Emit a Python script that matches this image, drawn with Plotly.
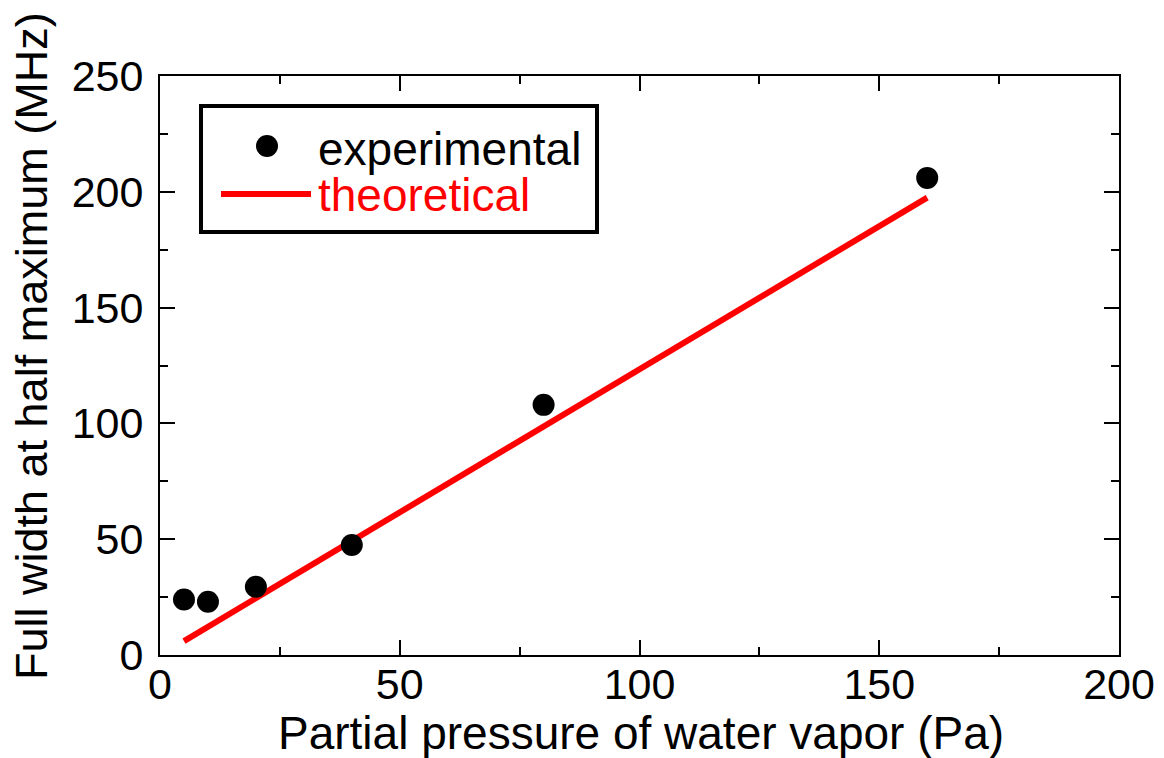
import plotly.graph_objects as go

# Measured line widths vs. water vapour partial pressure
pressure_pa = [5, 10, 20, 40, 80, 160]
fwhm_experimental = [24, 23, 29.5, 47.5, 108, 206]

# Theoretical broadening curve
pressure_theory = [5, 160]
fwhm_theory = [6, 197.5]

x_ticks = [0, 50, 100, 150, 200]
y_ticks = [0, 50, 100, 150, 200, 250]

FONT = "Liberation Sans, Arial, sans-serif"
TICK_FS = 43
TITLE_FS = 46

fig = go.Figure()
fig.add_trace(go.Scatter(
    x=pressure_theory, y=fwhm_theory, mode="lines",
    line=dict(color="#ff0000", width=6), name="theoretical", showlegend=False,
))
fig.add_trace(go.Scatter(
    x=pressure_pa, y=fwhm_experimental, mode="markers",
    marker=dict(color="black", size=22), name="experimental", showlegend=False,
))

axis_common = dict(
    showline=True, linecolor="black", linewidth=2, mirror="ticks",
    ticks="inside", ticklen=15, tickwidth=2, tickcolor="black",
    showgrid=False, zeroline=False,
    tickfont=dict(family=FONT, size=TICK_FS, color="black"),
)
fig.update_xaxes(
    range=[0, 200], tickvals=x_ticks, ticktext=[str(v) for v in x_ticks],
    minor=dict(ticks="inside", ticklen=8, tickwidth=2, tickcolor="black", dtick=25, tick0=0),
    ticklabelstandoff=-10, **axis_common,
)
fig.update_yaxes(
    range=[0, 250], tickvals=y_ticks, ticktext=[str(v) for v in y_ticks],
    minor=dict(ticks="inside", ticklen=8, tickwidth=2, tickcolor="black", dtick=25, tick0=0),
    ticklabelstandoff=6, **axis_common,
)

# Legend box drawn in paper coordinates
PX0, PX1, PY0, PY1 = 160, 1119, 76, 655


def px(x):
    return (x - PX0) / (PX1 - PX0)


def py(y):
    return (PY1 - y) / (PY1 - PY0)


shapes = [
    dict(type="rect", xref="paper", yref="paper",
         x0=px(201), x1=px(597), y0=py(232), y1=py(106),
         line=dict(color="black", width=4), fillcolor="white", layer="above"),
    dict(type="circle", xref="paper", yref="paper",
         x0=px(256), x1=px(278), y0=py(157), y1=py(135),
         line=dict(color="black", width=0), fillcolor="black", layer="above"),
    dict(type="line", xref="paper", yref="paper",
         x0=px(221), x1=px(311), y0=py(194), y1=py(194),
         line=dict(color="#ff0000", width=6), layer="above"),
]

annotations = [
    dict(text="experimental", xref="paper", yref="paper", x=px(316), y=py(149),
         xanchor="left", yanchor="middle", showarrow=False,
         font=dict(family=FONT, size=TITLE_FS, color="black")),
    dict(text="theoretical", xref="paper", yref="paper", x=px(316), y=py(195),
         xanchor="left", yanchor="middle", showarrow=False,
         font=dict(family=FONT, size=TITLE_FS, color="#ff0000")),
    dict(text="Partial pressure of water vapor (Pa)", xref="paper", yref="paper",
         x=px(641), y=py(733), xanchor="center", yanchor="middle", showarrow=False,
         font=dict(family=FONT, size=TITLE_FS, color="black")),
    dict(text="Full width at half maximum (MHz)", xref="paper", yref="paper",
         x=px(31), y=py(346), xanchor="center", yanchor="middle", showarrow=False,
         textangle=-90, font=dict(family=FONT, size=45, color="black")),
]

fig.update_layout(
    width=1164, height=758,
    margin=dict(l=PX0, r=1164 - PX1, t=PY0, b=758 - PY1, autoexpand=False),
    paper_bgcolor="white", plot_bgcolor="white",
    shapes=shapes, annotations=annotations, showlegend=False,
)

fig.write_html("out.html")
